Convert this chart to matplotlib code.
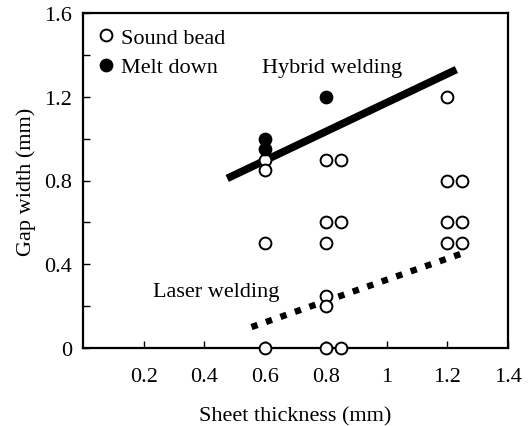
import numpy as np
from matplotlib import pyplot as plt

plt.rcParams['font.family'] = ['Liberation Serif', 'DejaVu Serif']

# sound bead (open circles)
sound_x = [0.6, 0.6, 0.6, 0.6, 0.8, 0.85, 0.8, 0.85, 0.8, 0.8, 0.8, 0.8, 0.85,
           1.2, 1.2, 1.25, 1.2, 1.25, 1.2, 1.25]
sound_y = [0.9, 0.85, 0.5, 0.0, 0.9, 0.9, 0.6, 0.6, 0.5, 0.25, 0.2, 0.0, 0.0,
           1.2, 0.8, 0.8, 0.6, 0.6, 0.5, 0.5]

# melt down (filled circles)
melt_x = [0.6, 0.6, 0.8]
melt_y = [1.0, 0.95, 1.2]

# boundary lines
hybrid_x = [0.475, 1.23]
hybrid_y = [0.81, 1.33]
laser_x = [0.555, 1.265]
laser_y = [0.10, 0.46]

xticks = [0.2, 0.4, 0.6, 0.8, 1.0, 1.2, 1.4]
xticklabels = ['0.2', '0.4', '0.6', '0.8', '1', '1.2', '1.4']
yticks = [0, 0.4, 0.8, 1.2, 1.6]
yticklabels = ['0', '0.4', '0.8', '1.2', '1.6']

fig = plt.figure(figsize=(5.29, 4.27), dpi=100)
ax = fig.add_axes([83/529, 1 - 349/427, (508-83)/529, (349-14)/427])

ax.plot(hybrid_x, hybrid_y, color='black', lw=5.5, solid_capstyle='butt', zorder=2)
ax.plot(laser_x, laser_y, color='black', lw=4.6, linestyle=(0, (1.0, 1.4)),
        dash_capstyle='butt', zorder=2)

ax.plot(sound_x, sound_y, 'o', ms=8.5, mfc='white', mec='black', mew=1.4,
        label='Sound bead', clip_on=False, zorder=3)
ax.plot(melt_x, melt_y, 'o', ms=8.5, mfc='black', mec='black', mew=1.4,
        label='Melt down', clip_on=False, zorder=3)

ax.text(0.82, 1.34, 'Hybrid welding', fontsize=16, ha='center', va='center')
ax.text(0.44, 0.27, 'Laser welding', fontsize=16, ha='center', va='center')

ax.set_xlim(0, 1.4)
ax.set_ylim(0, 1.6)
ax.set_xticks(xticks)
ax.set_xticklabels(xticklabels)
ax.set_yticks(yticks)
ax.set_yticklabels(yticklabels)
ax.set_yticks(np.arange(0.2, 1.6, 0.4), minor=True)
ax.tick_params(direction='in', labelsize=16, length=5, width=1, pad=8)
ax.tick_params(which='minor', direction='in', length=5, width=1)
ax.tick_params(axis='x', pad=14)

for s in ax.spines.values():
    s.set_linewidth(1.6)

ax.set_xlabel('Sheet thickness (mm)', fontsize=16, labelpad=14)
ax.set_ylabel('Gap width (mm)', fontsize=16, labelpad=6)

ax.legend(loc='upper left', frameon=False, fontsize=16, handletextpad=0.25,
          borderaxespad=0.2, labelspacing=0.4, handlelength=0.8,
          borderpad=0.45)

fig.savefig('out.png', dpi=100)
